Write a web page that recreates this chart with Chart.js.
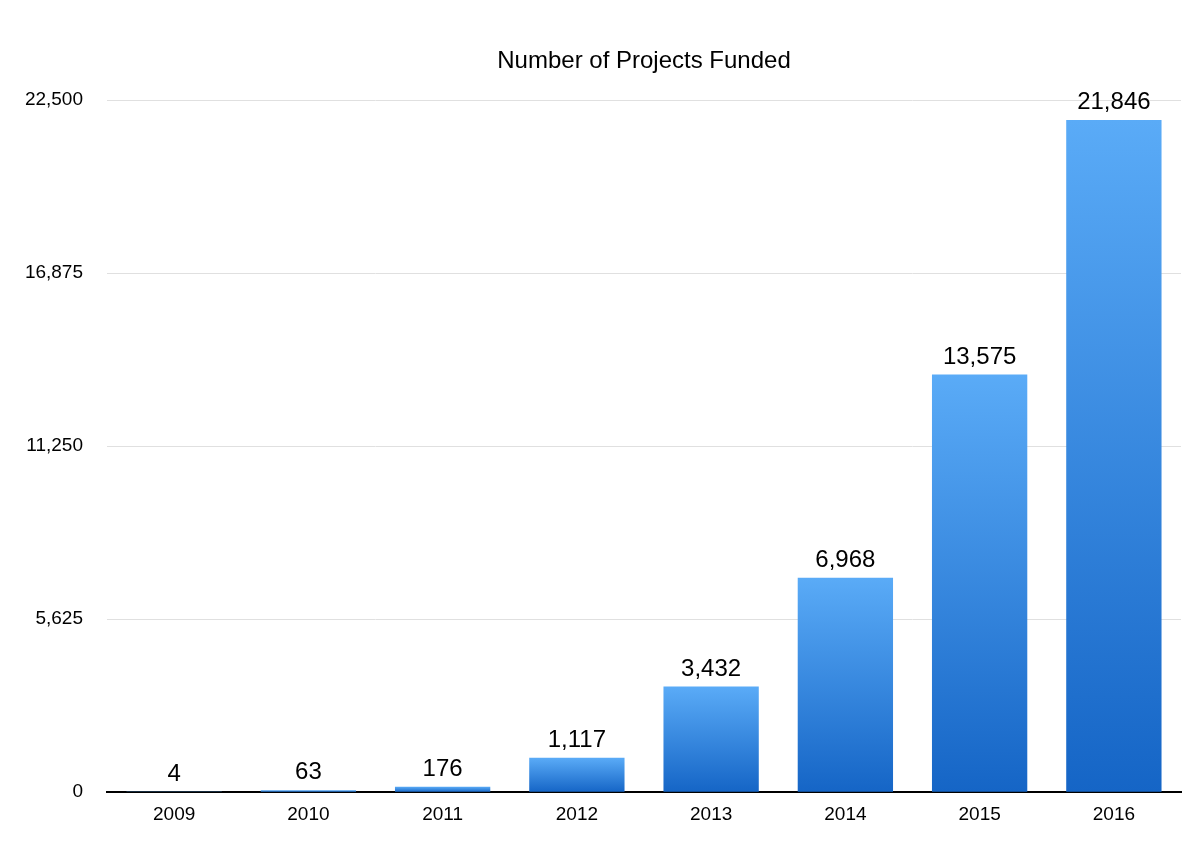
<!DOCTYPE html>
<html>
<head>
<meta charset="utf-8">
<script src="https://cdn.jsdelivr.net/npm/chart.js@4.4.0/dist/chart.umd.min.js"></script>
<style>
  html, body { margin: 0; padding: 0; background: #fff; }
  #wrap { width: 1200px; height: 844px; }
</style>
</head>
<body>
<div id="wrap"><canvas id="projectsChart"></canvas></div>
<script>
const years = ['2009', '2010', '2011', '2012', '2013', '2014', '2015', '2016'];
const funded = [4, 63, 176, 1117, 3432, 6968, 13575, 21846];
const yTicks = [0, 5625, 11250, 16875, 22500];
const chartTitle = 'Number of Projects Funded';

const font = '"Liberation Sans", Arial, Helvetica, sans-serif';

// value labels above each bar, title centred over the plot area
const valueLabels = {
  id: 'valueLabels',
  afterDatasetsDraw(chart) {
    const ctx = chart.ctx;
    const meta = chart.getDatasetMeta(0);
    const area = chart.chartArea;
    ctx.save();
    ctx.fillStyle = '#000';
    ctx.textAlign = 'center';
    ctx.textBaseline = 'middle';
    ctx.font = '24px ' + font;
    ctx.fillText(chartTitle, (area.left + area.right) / 2, 61);
    ctx.textBaseline = 'alphabetic';
    meta.data.forEach((bar, i) => {
      ctx.fillText(funded[i].toLocaleString('en-US'), bar.x, bar.y - 11);
    });
    ctx.restore();
  }
};

const ctx = document.getElementById('projectsChart').getContext('2d');
new Chart(ctx, {
  type: 'bar',
  data: {
    labels: years,
    datasets: [{
      label: 'Projects funded',
      data: funded,
      backgroundColor: (c) => {
        const chart = c.chart;
        const area = chart.chartArea;
        if (!area || c.dataIndex === undefined) return '#3a8ee8';
        const y = chart.scales.y;
        const top = y.getPixelForValue(funded[c.dataIndex]);
        const base = y.getPixelForValue(0);
        if (base - top < 1) return '#5aabf7';
        const g = chart.ctx.createLinearGradient(0, top, 0, base);
        g.addColorStop(0, '#5aabf7');
        g.addColorStop(1, '#1565c6');
        return g;
      },
      categoryPercentage: 0.71,
      barPercentage: 1.0
    }]
  },
  options: {
    responsive: true,
    maintainAspectRatio: false,
    animation: false,
    layout: { padding: { left: 0, right: 19, top: 100, bottom: 15 } },
    plugins: {
      legend: { display: false },
      tooltip: { enabled: false },
      title: { display: false }
    },
    scales: {
      x: {
        grid: { display: false },
        border: { display: true, color: '#000', width: 2 },
        ticks: { color: '#000', font: { family: font, size: 19 }, padding: 3 }
      },
      y: {
        min: 0,
        max: 22500,
        afterBuildTicks: (axis) => { axis.ticks = yTicks.map(v => ({ value: v })); },
        afterFit: (axis) => { axis.width = 107; },
        grid: { color: '#e0e0e0', drawTicks: false },
        border: { display: false },
        ticks: {
          color: '#000',
          padding: 24,
          font: { family: font, size: 19 },
          callback: (v) => v.toLocaleString('en-US')
        }
      }
    }
  },
  plugins: [valueLabels]
});
</script>
</body>
</html>
